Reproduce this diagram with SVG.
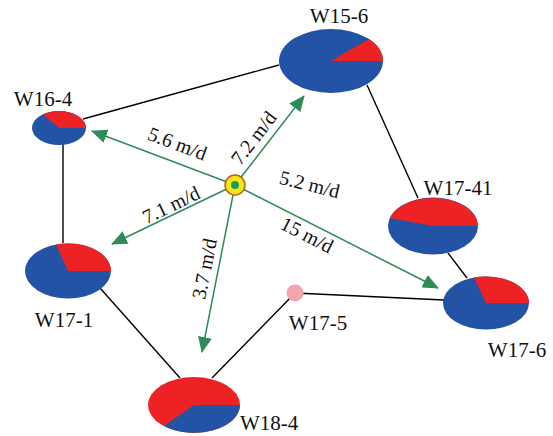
<svg xmlns="http://www.w3.org/2000/svg" width="553" height="436" viewBox="0 0 553 436">
<style>
.blue{fill:#2353a4}
.red{fill:#ed2224}
.lnk{stroke:#000;stroke-width:1.4;fill:none}
.flow{stroke:#2e8b57;stroke-width:1.5;fill:none;marker-end:url(#ah)}
.lbl{font-family:"Liberation Serif","Times New Roman",serif;font-size:21px;fill:#111}
.vel{font-family:"Liberation Serif","Times New Roman",serif;font-size:20px;fill:#111}
</style>
<defs>
<marker id="ah" markerUnits="userSpaceOnUse" markerWidth="16" markerHeight="14" refX="15" refY="7" orient="auto">
<path d="M0,0 L16,7 L0,14 Z" fill="#2e8b57"/>
</marker>
</defs>
<g id="connectors">
<line class="lnk" x1="83" y1="119" x2="279" y2="65"/>
<line class="lnk" x1="367" y1="85" x2="418" y2="198"/>
<line class="lnk" x1="448" y1="253" x2="467" y2="278"/>
<line class="lnk" x1="63" y1="144" x2="63" y2="243"/>
<line class="lnk" x1="100" y1="288" x2="180" y2="378"/>
<line class="lnk" x1="212" y1="378" x2="295" y2="293"/>
<line class="lnk" x1="295" y1="293" x2="444" y2="300"/>
<line class="flow" x1="235" y1="185" x2="92" y2="131"/>
<line class="flow" x1="235" y1="185" x2="304" y2="96"/>
<line class="flow" x1="235" y1="185" x2="112" y2="244"/>
<line class="flow" x1="235" y1="185" x2="438" y2="288"/>
<line class="flow" x1="235" y1="185" x2="202" y2="352"/>
<text class="vel" transform="translate(175,150) rotate(20.7)" text-anchor="middle">5.6 m/d</text>
<text class="vel" transform="translate(259,142) rotate(-52.6)" text-anchor="middle">7.2 m/d</text>
<text class="vel" transform="translate(308,191) rotate(14)" text-anchor="middle">5.2 m/d</text>
<text class="vel" transform="translate(304,241) rotate(26.8)" text-anchor="middle">15 m/d</text>
<text class="vel" transform="translate(174,211) rotate(-25.6)" text-anchor="middle">7.1 m/d</text>
<text class="vel" transform="translate(211,270) rotate(-78.7)" text-anchor="middle">3.7 m/d</text>
</g>
<g id="W15-6">
<ellipse class="blue" cx="331" cy="61" rx="52" ry="32"/>
<path class="red" d="M331,61 L383,61 A52,32 0 0 0 369,39 Z"/>
<text class="lbl" x="339" y="23" text-anchor="middle">W15-6</text>
</g>
<g id="W16-4">
<ellipse class="blue" cx="59" cy="128" rx="27" ry="17"/>
<path class="red" d="M59,128 L86,128 A27,17 0 0 0 43,114.5 Z"/>
<text class="lbl" x="43" y="106" text-anchor="middle">W16-4</text>
</g>
<g id="W17-41">
<ellipse class="blue" cx="433" cy="226" rx="45" ry="28.5"/>
<path class="red" d="M433,226 L478,226 A45,28.5 0 0 0 390,218 Z"/>
<text class="lbl" x="458" y="195" text-anchor="middle">W17-41</text>
</g>
<g id="W17-6">
<ellipse class="blue" cx="486" cy="303" rx="43" ry="26.5"/>
<path class="red" d="M486,303 L529,303 A43,26.5 0 0 0 474,277.5 Z"/>
<text class="lbl" x="517" y="357" text-anchor="middle">W17-6</text>
</g>
<g id="W17-1">
<ellipse class="blue" cx="68" cy="271" rx="43" ry="27.5"/>
<path class="red" d="M68,271 L111,271 A43,27.5 0 0 0 56,244.5 Z"/>
<text class="lbl" x="64" y="327" text-anchor="middle">W17-1</text>
</g>
<g id="W18-4">
<ellipse class="red" cx="194" cy="405" rx="46" ry="28"/>
<path class="blue" d="M194,405 L240,405 A46,28 0 0 1 164,426 Z"/>
<text class="lbl" x="240" y="430">W18-4</text>
</g>
<g id="W17-5">
<circle cx="295" cy="293" r="8.5" fill="#f2a5ae"/>
<text class="lbl" x="318" y="330" text-anchor="middle">W17-5</text>
</g>
<g id="injector">
<circle cx="235" cy="185" r="10" fill="#f5e616" stroke="#b5651d" stroke-width="1.5"/>
<circle cx="235" cy="185" r="4" fill="#1e9a5a"/>
</g>
</svg>
